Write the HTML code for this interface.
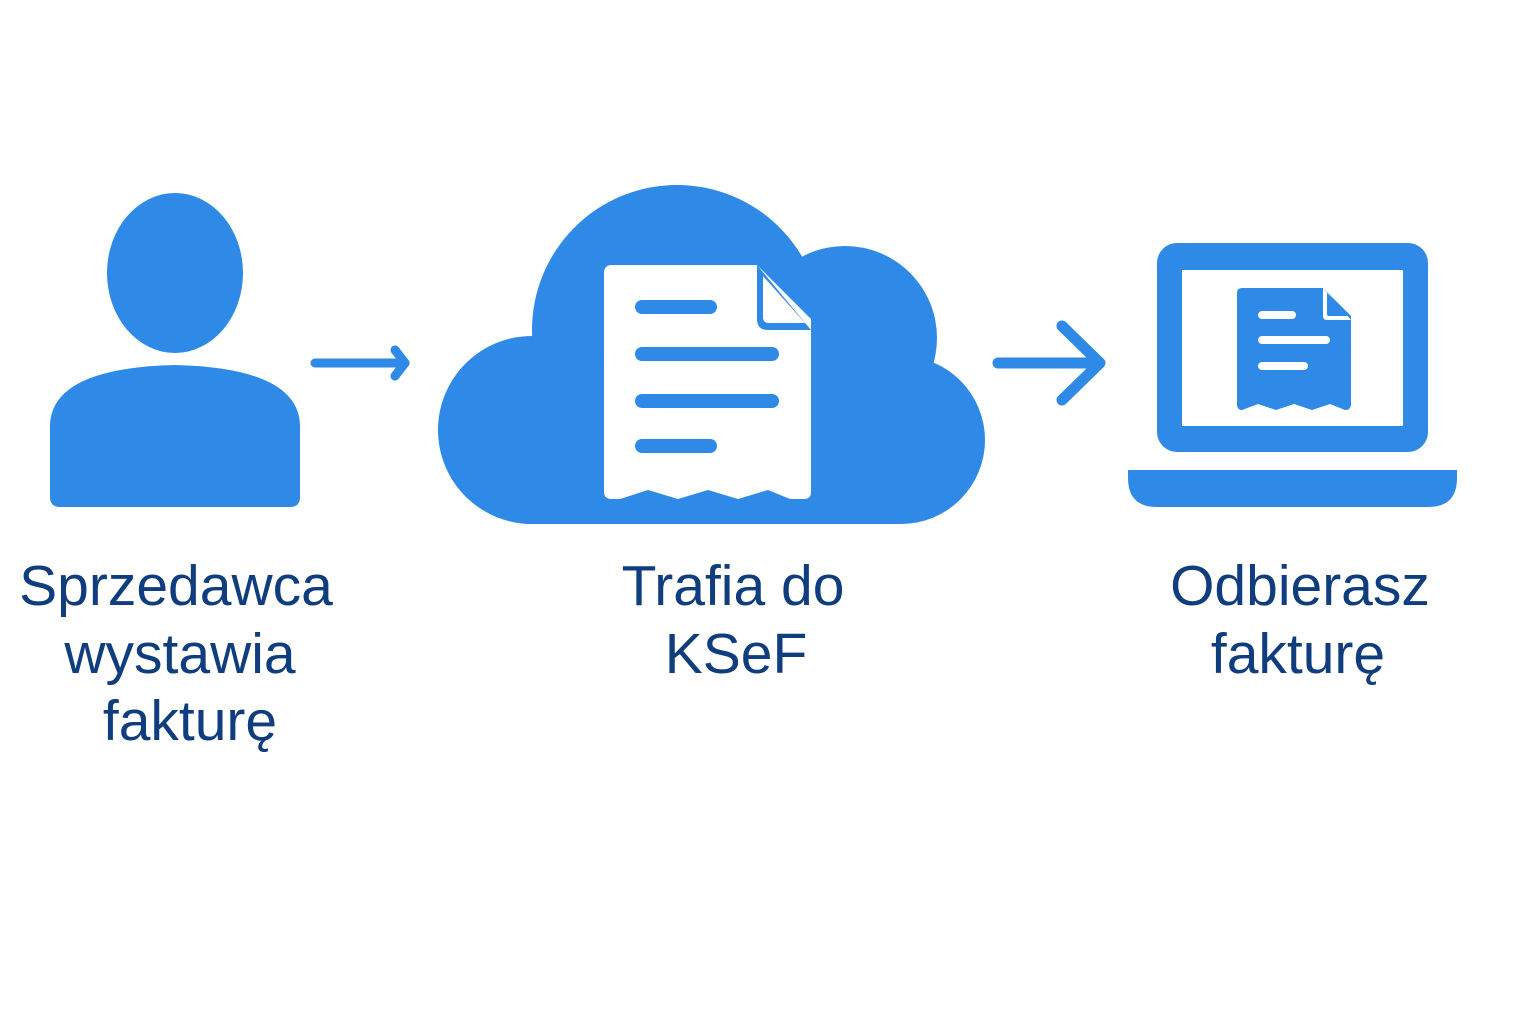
<!DOCTYPE html>
<html><head><meta charset="utf-8"><style>
html,body{margin:0;padding:0;background:#fff;width:1536px;height:1024px;overflow:hidden}
text{font-family:"Liberation Sans",sans-serif;font-size:57px;fill:#0F3D7E;text-anchor:middle}
</style></head><body>
<svg width="1536" height="1024" viewBox="0 0 1536 1024" xmlns="http://www.w3.org/2000/svg">
<g fill="#2E8AE6">
<ellipse cx="175" cy="273" rx="68" ry="80"/>
<path d="M50,497 L50,425 Q52,368 175,365 Q298,368 300,425 L300,497 Q300,507 290,507 L60,507 Q50,507 50,497 Z"/>
<circle cx="677" cy="330" r="145"/>
<circle cx="532" cy="430" r="94"/>
<circle cx="845" cy="338" r="92"/>
<circle cx="901" cy="440" r="84"/>
<rect x="532" y="380" width="370" height="144"/>
<rect x="1157" y="243" width="271" height="209" rx="20"/>
<path d="M1128,470 L1457,470 L1457,478 Q1457,507 1428,507 L1157,507 Q1128,507 1128,478 Z"/>
</g>
<g stroke="#2E8AE6" stroke-linecap="round" stroke-linejoin="round" fill="none">
<line x1="315" y1="363" x2="405" y2="363" stroke-width="9"/>
<polyline points="395,350 405,363 395,376" stroke-width="9"/>
<line x1="998" y1="363" x2="1098" y2="363" stroke-width="11"/>
<polyline points="1062,326 1100,363 1062,400" stroke-width="11"/>
</g>
<path d="M612,265 L757,265 L811,319 L811,492 Q811,499 804,499 L790,499 L768,490 L738,499 L708,490 L678,499 L648,490 L620,499 L612,499 Q604,499 604,492 L604,273 Q604,265 612,265 Z" fill="#fff"/>
<path d="M757,265 L757,319 Q757,330 768,330 L811,330 Z" fill="#2E8AE6"/>
<path d="M763,276 L763,317 Q763,323 769,323 L805,323 Z" fill="#fff"/>
<g stroke="#2E8AE6" stroke-width="14" stroke-linecap="round">
<line x1="642" y1="307" x2="710" y2="307"/>
<line x1="642" y1="354" x2="772" y2="354"/>
<line x1="642" y1="401" x2="772" y2="401"/>
<line x1="642" y1="446" x2="710" y2="446"/>
</g>
<rect x="1182" y="270" width="221" height="156" fill="#fff"/>
<path d="M1242,288 L1323,288 L1351,316 L1351,404 Q1351,410 1345,410 L1330,404 L1312,410 L1294,404 L1276,410 L1258,404 L1242,410 Q1237,410 1237,404 L1237,293 Q1237,288 1242,288 Z" fill="#2E8AE6"/>
<path d="M1323,288 L1323,316 Q1323,320 1327,320 L1351,320 Z" fill="#fff"/>
<path d="M1327,293 L1327,314 Q1327,316 1329,316 L1349,316 Z" fill="#2E8AE6"/>
<g stroke="#fff" stroke-width="8" stroke-linecap="round">
<line x1="1262" y1="315" x2="1292" y2="315"/>
<line x1="1262" y1="340" x2="1326" y2="340"/>
<line x1="1262" y1="366" x2="1304" y2="366"/>
</g>
<text x="176" y="605">Sprzedawca</text>
<text x="180" y="673">wystawia</text>
<text x="190" y="740">fakturę</text>
<text x="733" y="605">Trafia do</text>
<text x="736" y="673">KSeF</text>
<text x="1300" y="605">Odbierasz</text>
<text x="1298" y="673">fakturę</text>
</svg>
</body></html>
